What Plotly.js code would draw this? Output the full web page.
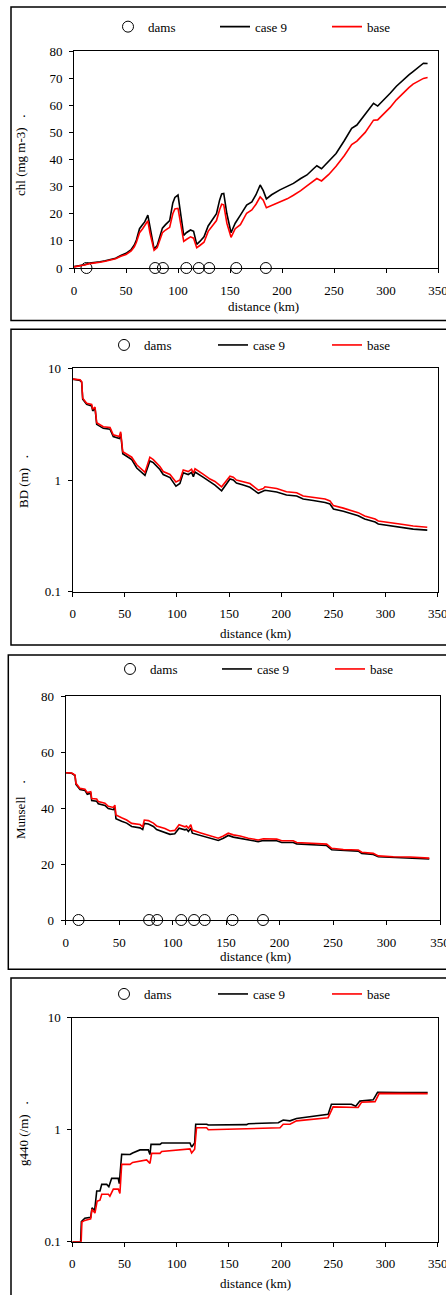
<!DOCTYPE html>
<html><head><meta charset="utf-8">
<script src="https://cdn.plot.ly/plotly-3.0.1.min.js"></script>
<style>html,body{margin:0;padding:0;background:#fff;overflow:hidden}#chart{width:446px;height:1295px}</style>
</head><body><div id="chart"></div>
<script>
// ---------- data ----------
const damDist  = [12, 78, 85.5, 108, 120, 130, 156, 184.5];
const damLevel = [0, 0, 0, 0, 0, 0, 0, 0];

const chlDist  = [0,5,10,15,20,25,30,35,40,45,50,55,58,60,63,66,68,71,73,77,80,83,85,88,92,95,97,100,102,105.5,108,112,115,118,121,125,129,133,137,140,142,144,147,151,155,160,166,171,175,179,182,185,190,198,205,211,218,224,230,233.5,238,245,252,260,267,272,280,288,292,298,304,310,317,322,326,331,336,340];
const chlCase9 = [0.5,0.8,1.2,1.8,2.0,2.3,2.7,3.1,3.6,4.6,5.4,6.8,8.5,10.3,14.5,16,17,19.5,15,7,8.3,12,14.7,16,17.5,24,26,26.9,22,12,13,14,13.5,8.7,9.8,11.5,15.5,18,20,25,27.3,27.5,20,13,16.5,19.5,23.2,24.4,27,30.6,28.5,25.5,27,28.8,30,31.2,33,34.3,36.5,37.7,36.6,39.3,42.2,47,51.5,52.7,56.5,60.7,59.7,62,64.4,67,69.6,71.2,72.4,74,75.5,75.4];
const chlBase  = [0.4,0.7,1.1,1.6,1.8,2.1,2.5,2.9,3.4,4.3,5.0,6.3,7.8,9.5,13,14.5,15.5,17.4,13,6.5,7.5,11,13,14,15,20,21.8,22,17.5,9.8,10.5,11.5,11,7.5,8.3,9.5,13.5,15.5,17.5,21.5,23.5,23.3,16.5,11.3,14.5,16,20.2,21.4,23.5,26.2,25,22.2,23,24.4,25.5,26.8,28.5,30.3,32,33,32.1,34.5,37.5,41.5,45.5,46.8,50,54.5,54.6,56.8,59.2,62,64.8,66.5,67.8,69,69.9,70.2];

const bdDist  = [0,7,8.6,9.6,13.4,18.2,19.2,21.4,23,29.3,35.8,38.9,44.7,46,48,56.6,61.4,67,69.3,74,77.3,83.6,86.8,93.3,99,102.8,106,110.8,114,115.7,117.3,125,131.7,136.4,142.8,150.8,154,157,163.5,170,178,182.8,184.4,195.6,205,214.8,221,230.7,242,246.7,250,259.5,269,273.8,280,290,293,306,317,326.5,340];
const bdCase9 = [8,7.8,7.5,5.3,4.75,4.6,4.15,4.4,3.15,2.9,2.85,2.45,2.35,2.6,1.72,1.52,1.28,1.14,1.1,1.48,1.43,1.24,1.12,1.05,0.88,0.93,1.16,1.12,1.17,1.07,1.18,1.06,0.96,0.9,0.8,1.02,1.0,0.94,0.9,0.86,0.76,0.79,0.81,0.78,0.735,0.72,0.675,0.655,0.63,0.61,0.55,0.525,0.49,0.478,0.447,0.42,0.404,0.386,0.375,0.363,0.356];
const bdBase  = [8,7.9,7.6,5.4,4.86,4.75,4.3,4.5,3.26,3.0,2.95,2.54,2.45,2.7,1.79,1.6,1.37,1.22,1.17,1.6,1.52,1.32,1.19,1.12,0.96,1.0,1.23,1.19,1.25,1.15,1.26,1.13,1.02,0.97,0.87,1.08,1.06,1.0,0.97,0.93,0.81,0.84,0.87,0.84,0.785,0.77,0.72,0.70,0.675,0.65,0.59,0.56,0.525,0.51,0.477,0.447,0.43,0.41,0.40,0.387,0.377];

const munDist  = [0,5.6,8.7,9.6,13.4,18,20.2,23.4,24.3,29,30.5,36.7,39.8,44.5,46,47,52.3,57,61.7,69.5,72,73.5,77.3,82,85,92.8,97.5,102,106,111.5,113,114.7,117,118.4,125.6,133.4,142.7,147.4,152,156.7,163,170.7,180,184.8,197.3,202,212.8,216,231.5,244,248.7,259.6,273.6,276.8,287.6,292.3,306.3,322,340];
const munCase9 = [52.6,52.4,51.6,48.4,46.6,46.3,44.9,45.3,42.7,42.4,41.5,40.9,39.8,39.4,40.2,36.2,35.3,34.6,33.4,32.9,32.3,34.5,34.3,33.4,32.3,31.4,30.6,30.8,32.8,32.2,32.4,31.6,32.8,31,30.2,29.5,28.4,29.2,30.2,29.6,29.2,28.5,28,28.4,28.3,27.7,27.7,27.2,26.9,26.6,25.1,24.8,24.6,23.8,23.4,22.6,22.3,22.1,21.8];
const munBase  = [52.6,52.5,51.8,48.8,47,46.7,45.5,45.8,43.4,43.2,42.3,41.7,40.6,40.2,41,37.5,36.5,35.7,34.5,34.1,33.3,35.7,35.5,34.6,33.6,32.7,31.8,32,34,33.3,33.6,32.8,34,32.1,31.2,30.4,29.2,30,31,30.4,30,29.2,28.6,29,28.9,28.3,28.3,27.7,27.4,27.1,25.6,25.2,25,24.2,23.8,22.9,22.6,22.5,22.1];

const gCase9Dist = [0,8,8.7,12,17.6,18.9,21.4,23.4,26.5,28.2,33,35,37.7,44,45,47.3,55.3,57.8,64.8,72.8,74.4,75.4,84,85.6,96.7,112.7,114.3,117.2,118.2,128.7,130.3,167,168.6,197.3,202,208.5,214.8,227.6,237,245,248.2,267.4,271.5,275.4,288.2,292.4,314,340.4];
const gCase9     = [0.1,0.1,0.151,0.162,0.165,0.201,0.19,0.284,0.284,0.325,0.325,0.31,0.368,0.368,0.33,0.603,0.6,0.62,0.66,0.66,0.6,0.741,0.74,0.76,0.76,0.76,0.7,0.76,1.12,1.12,1.1,1.11,1.13,1.155,1.22,1.2,1.26,1.3,1.35,1.37,1.69,1.69,1.62,1.8,1.85,2.16,2.15,2.15];
const gBaseDist  = [0,8.5,9.2,12,17.6,18.9,21.7,23.8,26.5,28.2,34.6,36,39.3,44,45.6,47.3,55.3,57.8,71.2,74.4,76,84,85.6,112.7,114.3,117.2,119,128.7,130.3,168.6,199,202,208.5,214.8,245,249.8,273.8,277,290,294,340.4];
const gBase      = [0.1,0.1,0.15,0.155,0.16,0.195,0.18,0.23,0.235,0.265,0.265,0.255,0.295,0.295,0.27,0.49,0.49,0.51,0.537,0.5,0.615,0.615,0.64,0.673,0.62,0.67,1.04,1.04,1.0,1.03,1.04,1.12,1.12,1.2,1.28,1.6,1.58,1.76,1.78,2.11,2.1];

const xTitle = 'distance (km)';
const yTitles = ['chl (mg m-3)\u00a0\u00a0 .', 'BD (m)\u00a0\u00a0 .', 'Munsell\u00a0\u00a0\u00a0 .', 'g440 (/m)\u00a0\u00a0 .'];
const seriesNames = ['dams', 'case 9', 'base'];
const logTicks = [0.1, 1, 10];
const logTickText = ['0.1', '1', '10'];

// ---------- layout helpers ----------
const W = 446, H = 1295;
const px = p => p / W;
const py = p => 1 - p / H;
const FONT = '"Liberation Serif"';

const panels = [
  {dist: chlDist, c9: chlCase9, b: chlBase},
  {dist: bdDist, c9: bdCase9, b: bdBase},
  {dist: munDist, c9: munCase9, b: munBase},
  {c9: gCase9, b: gBase, c9x: gCase9Dist, bx: gBaseDist}
];

// legend item pixel positions per panel: [dams marker centre, case9 line start, base line start, row y]
const legendPos = [[128, 220, 332, 26.7], [124, 218, 332, 345], [130, 222, 335, 669], [124, 218, 332, 994]];

const traces = [];
const layout = {
  width: W, height: H, margin: {l: 0, r: 0, t: 0, b: 0, autoexpand: false},
  paper_bgcolor: '#fff', plot_bgcolor: '#fff', showlegend: true,
  font: {family: FONT, size: 13, color: '#000'},
  shapes: [], annotations: []
};

let lgIdx = 0;
function makeLegend(xStart, yRow) {
  lgIdx += 1;
  const key = lgIdx === 1 ? 'legend' : 'legend' + lgIdx;
  layout[key] = {orientation: 'h', x: px(xStart), y: py(yRow), xanchor: 'left', yanchor: 'middle',
    bgcolor: 'rgba(0,0,0,0)', borderwidth: 0, font: {family: FONT, size: 13, color: '#000'}};
  return key;
}

panels.forEach((p, i) => {
  const n = i === 0 ? '' : String(i + 1);
  const xa = 'x' + n, ya = 'y' + n;
  const L = legendPos[i];
  traces.push({x: damDist, y: damLevel, xaxis: xa, yaxis: ya, legend: makeLegend(L[0] - 20, L[3]), name: seriesNames[0],
    type: 'scatter', mode: 'markers', cliponaxis: false,
    marker: {symbol: 'circle-open', size: 11, color: '#000', line: {width: 1, color: '#000'}}});
  traces.push({x: p.c9x || p.dist, y: p.c9, xaxis: xa, yaxis: ya, legend: makeLegend(L[1] - 5, L[3]), name: seriesNames[1],
    type: 'scatter', mode: 'lines', line: {color: '#000', width: 1.6}});
  traces.push({x: p.bx || p.dist, y: p.b, xaxis: xa, yaxis: ya, legend: makeLegend(L[2] - 5, L[3]), name: seriesNames[2],
    type: 'scatter', mode: 'lines', line: {color: '#ff0000', width: 1.6}});
});

const axisCommon = {
  showline: true, linecolor: '#000', linewidth: 1, mirror: true,
  ticks: 'outside', ticklen: 4, tickcolor: '#000', tickwidth: 1,
  showgrid: false, zeroline: false, fixedrange: true, automargin: false,
  ticklabeloverflow: 'allow',
  tickfont: {family: FONT, size: 13, color: '#000'}
};
const xCommon = Object.assign({}, axisCommon, {range: [0, 350], tick0: 0, dtick: 50, ticklabelstandoff: 6});
const yCommon = Object.assign({}, axisCommon, {ticklabelstandoff: 4});

// plot-area pixel geometry [left, right, top, bottom]
const geo = [
  [74, 438, 51, 268],
  [72.7, 437.7, 368.3, 591.7],
  [65.7, 440, 696, 920],
  [72.3, 437.7, 1017.7, 1241.7]
];
const yRanges = [
  {range: [0, 80], dtick: 10},
  {type: 'log', range: [-1, 1], tickvals: logTicks, ticktext: logTickText},
  {range: [0, 80], dtick: 20},
  {type: 'log', range: [-1, 1], tickvals: logTicks, ticktext: logTickText}
];
// frames [left, top, bottom]
const frames = [[11, 7, 320.5], [11, 329.3, 645], [8.3, 655, 969.3], [11, 978, 1300]];
const xTitlePos = [[263.5, 306.7], [255, 633.3], [255, 956.7], [255, 1283.3]];
const yTitlePos = [[21, 155], [23, 482], [20, 810], [23, 1134]];

geo.forEach((g, i) => {
  const n = i === 0 ? '' : String(i + 1);
  layout['xaxis' + n] = Object.assign({}, xCommon, {domain: [px(g[0]), px(g[1])], anchor: 'y' + n});
  layout['yaxis' + n] = Object.assign({}, yCommon, yRanges[i], {domain: [py(g[3]), py(g[2])], anchor: 'x' + n});
  const f = frames[i];
  layout.shapes.push({type: 'rect', xref: 'paper', yref: 'paper', x0: px(f[0]), x1: 1.05, y0: py(f[2]), y1: py(f[1]),
    line: {color: '#000', width: 1.5}, fillcolor: 'rgba(0,0,0,0)'});
  layout.annotations.push({text: xTitle, xref: 'paper', yref: 'paper', x: px(xTitlePos[i][0]), y: py(xTitlePos[i][1]),
    xanchor: 'center', yanchor: 'middle', showarrow: false, font: {family: FONT, size: 13, color: '#000'}});
  layout.annotations.push({text: yTitles[i], xref: 'paper', yref: 'paper', x: px(yTitlePos[i][0]), y: py(yTitlePos[i][1]),
    xanchor: 'center', yanchor: 'middle', textangle: -90, showarrow: false, font: {family: FONT, size: 13, color: '#000'}});
});

Plotly.newPlot('chart', traces, layout, {staticPlot: true, displayModeBar: false});
</script></body></html>
